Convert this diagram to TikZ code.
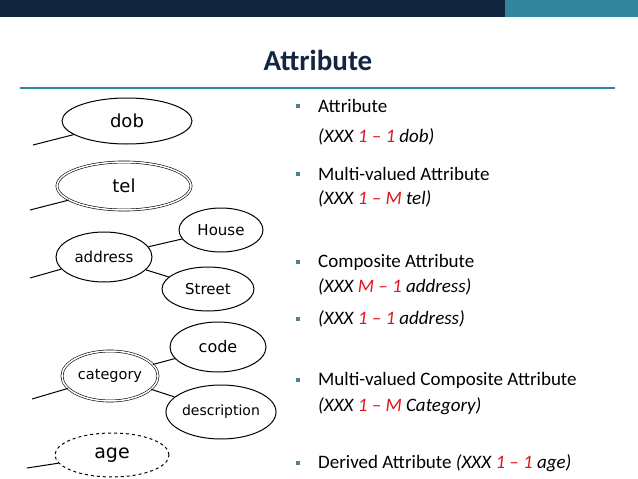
\documentclass[tikz,border=0pt]{standalone}
\usetikzlibrary{shapes.geometric}
\usepackage{fontspec}
\setmainfont{Carlito}
\newfontfamily\ellf{DejaVu Sans}
\definecolor{navy}{HTML}{132640}
\definecolor{teal}{HTML}{31869E}
\definecolor{redt}{HTML}{E0141E}
\begin{document}
\begin{tikzpicture}[x=1pt,y=-1pt,
  ell/.style={draw,ellipse,line width=1pt,inner sep=0pt,font=\ellf},
  dbl/.style={double,double distance=1.5pt,line width=0.6pt},
  ln/.style={line width=1pt},
  txt/.style={anchor=west,font=\fontsize{19}{22}\selectfont,inner sep=0pt},
  bul/.style={fill=teal!70!gray,minimum size=4.5pt,inner sep=0pt}]
\useasboundingbox (0,0) rectangle (638,479);
\fill[navy] (0,0) rectangle (505,17);
\fill[teal] (505,0) rectangle (638,17);
\node[font=\fontsize{29}{32}\selectfont\bfseries,text=navy] (title) at (318,60) {Attribute};
\draw[teal,line width=2pt] (20,88) -- (615,88);
% ellipses
\node[ell,minimum width=130,minimum height=46,font=\ellf\fontsize{18}{20}\selectfont] (dob) at (127,121) {dob};
\node[ell,dbl,minimum width=134,minimum height=48,font=\ellf\fontsize{18}{20}\selectfont] (tel) at (124,186) {tel};
\node[ell,minimum width=96,minimum height=50,font=\ellf\fontsize{15}{16}\selectfont] (address) at (104,257) {address};
\node[ell,minimum width=84,minimum height=44,font=\ellf\fontsize{15}{16}\selectfont] (house) at (221,230) {House};
\node[ell,minimum width=92,minimum height=44,font=\ellf\fontsize{15}{16}\selectfont] (street) at (208,289) {Street};
\node[ell,dbl,minimum width=96,minimum height=50,font=\ellf\fontsize{14.5}{16}\selectfont] (cat) at (110,376) {category};
\node[ell,minimum width=96,minimum height=50,font=\ellf\fontsize{16}{18}\selectfont] (code) at (218,347) {code};
\node[ell,minimum width=96,minimum height=54,font=\ellf\fontsize{14}{16}\selectfont] (desc) at (221,412) {description};
\node[ell,dashed,minimum width=114,minimum height=44,font=\ellf\fontsize{19}{20}\selectfont] (age) at (112,455) {age};
\coordinate (c1) at (33,145);
\coordinate (c2) at (30,210);
\coordinate (c3) at (30,278);
\coordinate (c4) at (32,399);
\coordinate (c5) at (27,468);
\draw[ln] (c1) -- (dob);
\draw[ln] (c2) -- (tel);
\draw[ln] (c3) -- (address);
\draw[ln] (c4) -- (cat);
\draw[ln] (c5) -- (age);
\draw[ln] (address) -- (house);
\draw[ln] (address) -- (street);
\draw[ln] (cat) -- (code);
\draw[ln] (cat) -- (desc);
% text
\node[bul] (b1) at (298,106) {};
\node[bul] (b2) at (298,174) {};
\node[bul] (b3) at (298,262) {};
\node[bul] (b4) at (298,319) {};
\node[bul] (b5) at (298,380) {};
\node[bul] (b6) at (298,463) {};
\node[txt] (t1) at (318,106) {Attribute};
\node[txt] (t1b) at (318,137) {\itshape (XXX \textcolor{redt}{1 – 1} dob)};
\node[txt] (t2) at (318,174) {Multi-valued Attribute};
\node[txt] (t2b) at (318,199) {\itshape (XXX \textcolor{redt}{1 – M} tel)};
\node[txt] (t3) at (318,262) {Composite Attribute};
\node[txt] (t3b) at (318,287) {\itshape (XXX \textcolor{redt}{M – 1} address)};
\node[txt] (t4) at (318,319) {\itshape (XXX \textcolor{redt}{1 – 1} address)};
\node[txt] (t5) at (318,380) {Multi-valued Composite Attribute};
\node[txt] (t5b) at (318,406) {\itshape (XXX \textcolor{redt}{1 – M} Category)};
\node[txt] (t6) at (318,463) {Derived Attribute \itshape (XXX \textcolor{redt}{1 – 1} age)};
\end{tikzpicture}
\end{document}
